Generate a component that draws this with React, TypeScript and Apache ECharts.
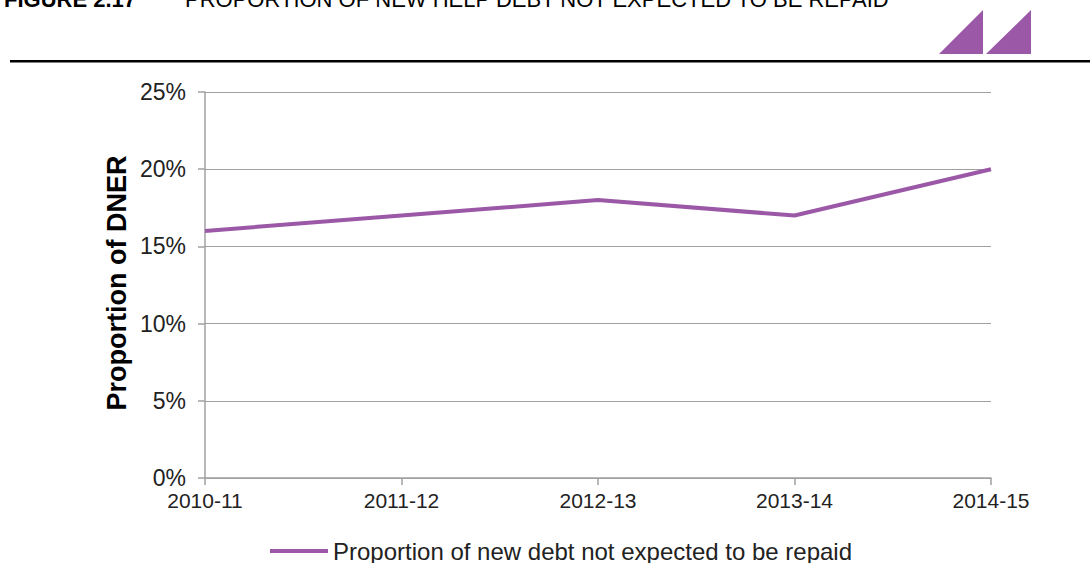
import React, { useEffect, useRef } from "react";
import * as echarts from "echarts";

const categories = ["2010-11", "2011-12", "2012-13", "2013-14", "2014-15"];
const dnerShare = [16, 17, 18, 17, 20];
const seriesName = "Proportion of new debt not expected to be repaid";
const yTitle = "Proportion of DNER";
const figureLabel = "FIGURE 2.17";
const figureTitle = "PROPORTION OF NEW HELP DEBT NOT EXPECTED TO BE REPAID";

const PURPLE = "#9b58a6";
const FONT = "'Liberation Sans', Arial, sans-serif";

export default function App() {
  const ref = useRef<HTMLDivElement>(null);
  useEffect(() => {
    if (!ref.current) return;
    const chart = echarts.init(ref.current, undefined, { renderer: "svg" });
    chart.setOption({
      animation: false,
      backgroundColor: "#ffffff",
      grid: { left: 205, right: 99, top: 92, bottom: 85, containLabel: false },
      xAxis: {
        type: "category",
        data: categories,
        boundaryGap: false,
        axisLine: { show: true, lineStyle: { color: "#a0a0a0", width: 1.5 } },
        axisTick: { show: true, length: 7, lineStyle: { color: "#a0a0a0", width: 1.5 } },
        axisLabel: { color: "#222", fontFamily: FONT, fontSize: 21, margin: 12 },
        splitLine: { show: false },
      },
      yAxis: {
        type: "value",
        min: 0,
        max: 25,
        interval: 5,
        axisLine: { show: true, lineStyle: { color: "#a0a0a0", width: 1.5 } },
        axisTick: { show: true, length: 7, lineStyle: { color: "#a0a0a0", width: 1.5 } },
        axisLabel: { color: "#222", fontFamily: FONT, fontSize: 23, margin: 19, formatter: "{value}%" },
        splitLine: { show: true, lineStyle: { color: "#a0a0a0", width: 1.2 } },
      },
      legend: {
        show: true,
        left: 265,
        top: 533,
        itemWidth: 58,
        itemHeight: 14,
        icon: "path://M0,5 L58,5 L58,9 L0,9 Z",
        textStyle: { color: "#222", fontFamily: FONT, fontSize: 24, lineHeight: 26 },
        data: [seriesName],
      },
      series: [
        {
          name: seriesName,
          type: "line",
          data: dnerShare,
          showSymbol: false,
          symbol: "none",
          lineStyle: { color: PURPLE, width: 4 },
          itemStyle: { color: PURPLE },
        },
      ],
      graphic: [
        {
          type: "text",
          x: 117,
          y: 283,
          rotation: Math.PI / 2,
          style: {
            text: yTitle,
            font: `bold 27px ${FONT}`,
            fill: "#000",
            align: "center",
            verticalAlign: "middle",
          },
        },
        {
          type: "text",
          x: 4,
          y: 10,
          style: {
            text: figureLabel,
            font: `bold 22px ${FONT}`,
            fill: "#000",
            align: "left",
            verticalAlign: "bottom",
          },
        },
        {
          type: "text",
          x: 185,
          y: 10,
          style: {
            text: figureTitle,
            font: `22px ${FONT}`,
            fill: "#000",
            align: "left",
            verticalAlign: "bottom",
          },
        },
        {
          type: "polygon",
          shape: { points: [[939, 54], [983, 10], [983, 54]] },
          style: { fill: PURPLE },
        },
        {
          type: "polygon",
          shape: { points: [[986, 54], [1031, 10], [1031, 54]] },
          style: { fill: PURPLE },
        },
        {
          type: "rect",
          shape: { x: 10, y: 60, width: 1080, height: 2.5 },
          style: { fill: "#000" },
        },
      ],
    });
    return () => chart.dispose();
  }, []);
  return (
    <div
      ref={ref}
      style={{ position: "fixed", left: 0, top: 0, width: 1090, height: 563 }}
    />
  );
}
